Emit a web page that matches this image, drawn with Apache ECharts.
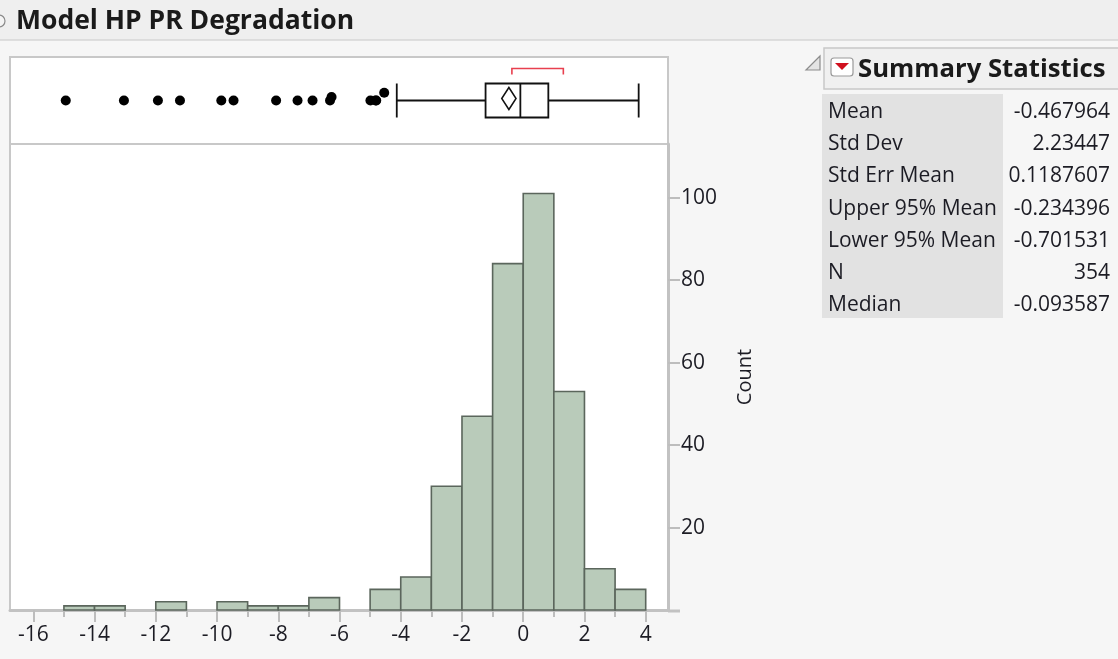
<!DOCTYPE html>
<html><head><meta charset="utf-8">
<script src="https://cdn.jsdelivr.net/npm/echarts@6/dist/echarts.min.js"></script>
<style>html,body{margin:0;padding:0;background:#f6f6f6}#c{width:1118px;height:659px}</style>
</head><body><div id="c"></div>
<script>
// ---------- data ----------
const chartTitle = 'Model HP PR Degradation';
const binStarts = [-15,-14,-13,-12,-11,-10,-9,-8,-7,-6,-5,-4,-3,-2,-1,0,1,2,3];
const binCounts = [1,1,0,2,0,2,1,1,3,0,5,8,30,47,84,101,53,10,5];
const binWidth = 1;
const xTickValues = [-16,-14,-12,-10,-8,-6,-4,-2,0,2,4];
const xMinorTickValues = [-15,-13,-11,-9,-7,-5,-3,-1,1,3];
const yTickValues = [20,40,60,80,100];
const yAxisName = 'Count';
const outlierValues = [-14.94,-13.04,-11.93,-11.21,-9.86,-9.46,-8.07,-7.37,-6.88,-6.31,-6.26,-4.99,-4.82,-4.80,-4.54];
const outlierJitter = [0,0,0,0,0,0,0,0,0,0,0.04,0,0,0,0.09];
const boxStats = [-4.13,-1.23,-0.093587,0.82,3.77]; // whisker low, Q1, median, Q3, whisker high
const meanCI = [-0.701531,-0.467964,-0.234396];    // lower 95%, mean, upper 95%
const shortestHalf = [-0.37,1.31];
const statsTitle = 'Summary Statistics';
const statLabels = ['Mean','Std Dev','Std Err Mean','Upper 95% Mean','Lower 95% Mean','N','Median'];
const statValues = ['-0.467964','2.23447','0.1187607','-0.234396','-0.701531','354','-0.093587'];

// ---------- chart ----------
const FONT = "'Open Sans', 'Noto Sans', sans-serif";
const TXT = '#1c1c24';
const xMin = -16.761, xMax = 4.728, yMax = 113;

const histData = binStarts.map((s, i) => [s, s + binWidth, binCounts[i]]);
const boxData = [[...boxStats, ...meanCI, ...shortestHalf, 0.5]];

const statGraphics = [];
statLabels.forEach((lab, i) => {
  const y = 112 + i * 32.2;
  statGraphics.push({type:'text', x:828, y:y, style:{text:lab, font:'21px ' + FONT, fill:TXT, textVerticalAlign:'middle'}});
  statGraphics.push({type:'text', x:1110, y:y, style:{text:statValues[i], font:'21px ' + FONT, fill:TXT, textAlign:'right', textVerticalAlign:'middle'}});
});

const option = {
  backgroundColor: '#f6f6f6',
  animation: false,
  textStyle: {fontFamily: FONT},
  grid: [
    {left:10, top:57, width:658, height:87, show:true, backgroundColor:'#ffffff', borderColor:'#c8c8c8', borderWidth:2},
    {left:10, top:144, width:658, height:466, show:true, backgroundColor:'#ffffff', borderColor:'#c8c8c8', borderWidth:2}
  ],
  xAxis: [
    {gridIndex:0, type:'value', min:xMin, max:xMax, show:false},
    {gridIndex:1, type:'value', min:xMin, max:xMax, position:'bottom',
     axisLine:{show:true, onZero:false, lineStyle:{color:'#c2c2c2', width:3}},
     axisTick:{show:true, customValues:xTickValues, length:12, lineStyle:{color:'#bdbdbd', width:2}},
     axisLabel:{customValues:xTickValues, margin:15, fontSize:21, color:TXT, fontFamily:FONT},
     splitLine:{show:false}},
    {gridIndex:1, type:'value', min:xMin, max:xMax, position:'bottom',
     axisLine:{show:false, onZero:false},
     axisTick:{show:true, customValues:xMinorTickValues, length:7, lineStyle:{color:'#bdbdbd', width:2}},
     axisLabel:{show:false}, splitLine:{show:false}}
  ],
  yAxis: [
    {gridIndex:0, type:'value', min:0, max:1, show:false},
    {gridIndex:1, type:'value', min:0, max:yMax, position:'right',
     name:yAxisName, nameLocation:'middle', nameGap:67, nameRotate:90,
     nameTextStyle:{fontSize:20, color:TXT, fontFamily:FONT},
     axisLine:{show:true, onZero:false, lineStyle:{color:'#c2c2c2', width:3}},
     axisTick:{show:true, customValues:yTickValues, length:12, lineStyle:{color:'#bdbdbd', width:2}},
     axisLabel:{customValues:yTickValues, margin:13, fontSize:21, color:TXT, fontFamily:FONT},
     splitLine:{show:false}}
  ],
  series: [
    {
      type:'custom', xAxisIndex:1, yAxisIndex:1, data:histData,
      encode:{x:[0,1], y:2},
      renderItem: function (params, api) {
        const s = api.value(0), e = api.value(1), c = api.value(2);
        if (!c) return null;
        const p0 = api.coord([s, c]);
        const p1 = api.coord([e, 0]);
        return {type:'rect', shape:{x:p0[0], y:p0[1], width:p1[0]-p0[0], height:p1[1]-p0[1]},
          style:{fill:'#b9cbba', stroke:'#5b665c', lineWidth:1.6}};
      }
    },
    {
      type:'scatter', xAxisIndex:0, yAxisIndex:0,
      data: outlierValues.map((v, i) => [v, 0.5 + outlierJitter[i]]),
      symbolSize:10, itemStyle:{color:'#000000', opacity:1}, z:3
    },
    {
      type:'custom', xAxisIndex:0, yAxisIndex:0, data:boxData,
      encode:{x:[0,1,2,3,4,5,6,7,8,9], y:10},
      renderItem: function (params, api) {
        const cy = api.coord([0, api.value(10)])[1];
        const X = i => api.coord([api.value(i), 0.5])[0];
        const wl = X(0), q1 = X(1), md = X(2), q3 = X(3), wh = X(4);
        const ciL = X(5), mn = X(6), ciH = X(7), shL = X(8), shH = X(9);
        const hh = 17, ls = {stroke:'#111', lineWidth:1.8, fill:null};
        const by = cy - 2;
        return {type:'group', children:[
          {type:'line', shape:{x1:wl, y1:cy, x2:q1, y2:cy}, style:ls},
          {type:'line', shape:{x1:q3, y1:cy, x2:wh, y2:cy}, style:ls},
          {type:'line', shape:{x1:wl, y1:cy-hh, x2:wl, y2:cy+hh}, style:ls},
          {type:'line', shape:{x1:wh, y1:cy-hh, x2:wh, y2:cy+hh}, style:ls},
          {type:'rect', shape:{x:q1, y:cy-hh, width:q3-q1, height:2*hh}, style:{stroke:'#111', lineWidth:1.8, fill:'#ffffff'}},
          {type:'line', shape:{x1:md, y1:cy-hh, x2:md, y2:cy+hh}, style:ls},
          {type:'polygon', shape:{points:[[ciL,by],[mn,by-11],[ciH,by],[mn,by+11]]}, style:{stroke:'#111', lineWidth:1.5, fill:null}},
          {type:'polyline', shape:{points:[[shL,cy-26],[shL,cy-32],[shH,cy-32],[shH,cy-26]]}, style:{stroke:'#e8404f', lineWidth:1.6, fill:null}}
        ]};
      }
    }
  ],
  graphic: [
    {type:'rect', shape:{x:0, y:0, width:1118, height:40}, style:{fill:'#efefef'}, z:-10},
    {type:'line', shape:{x1:0, y1:40, x2:1118, y2:40}, style:{stroke:'#d6d6d6', lineWidth:1.5}, z:-10},
    {type:'circle', shape:{cx:-1, cy:21, r:6}, style:{fill:'#f4f4f4', stroke:'#8a8a8a', lineWidth:1.2}},
    {type:'text', x:16, y:21, style:{text:chartTitle, font:'bold 26.5px ' + FONT, fill:'#1a1a1a', textVerticalAlign:'middle'}},
    {type:'line', shape:{x1:668, y1:611, x2:680, y2:611}, style:{stroke:'#c2c2c2', lineWidth:3}},
    // summary statistics panel
    {type:'polygon', shape:{points:[[820,56],[820,70],[806,70]]}, style:{fill:'#e4e4e4', stroke:'#8c8c8c', lineWidth:1.2}},
    {type:'rect', shape:{x:824, y:48, width:300, height:41}, style:{fill:'#f0f0f0', stroke:'#c8c8c8', lineWidth:1.5}},
    {type:'rect', shape:{x:831, y:58, width:22, height:18, r:3}, style:{fill:'#ffffff', stroke:'#9a9a9a', lineWidth:1.2}},
    {type:'polygon', shape:{points:[[835,63],[849,63],[842,70]]}, style:{fill:'#d0101e'}},
    {type:'text', x:858, y:70, style:{text:statsTitle, font:'bold 25.7px ' + FONT, fill:'#1a1a1a', textVerticalAlign:'middle'}},
    {type:'rect', shape:{x:822, y:94, width:181, height:224}, style:{fill:'#e2e2e2'}},
    ...statGraphics
  ]
};

const chart = echarts.init(document.getElementById('c'), null, {renderer:'canvas'});
chart.setOption(option);
</script>
</body></html>
